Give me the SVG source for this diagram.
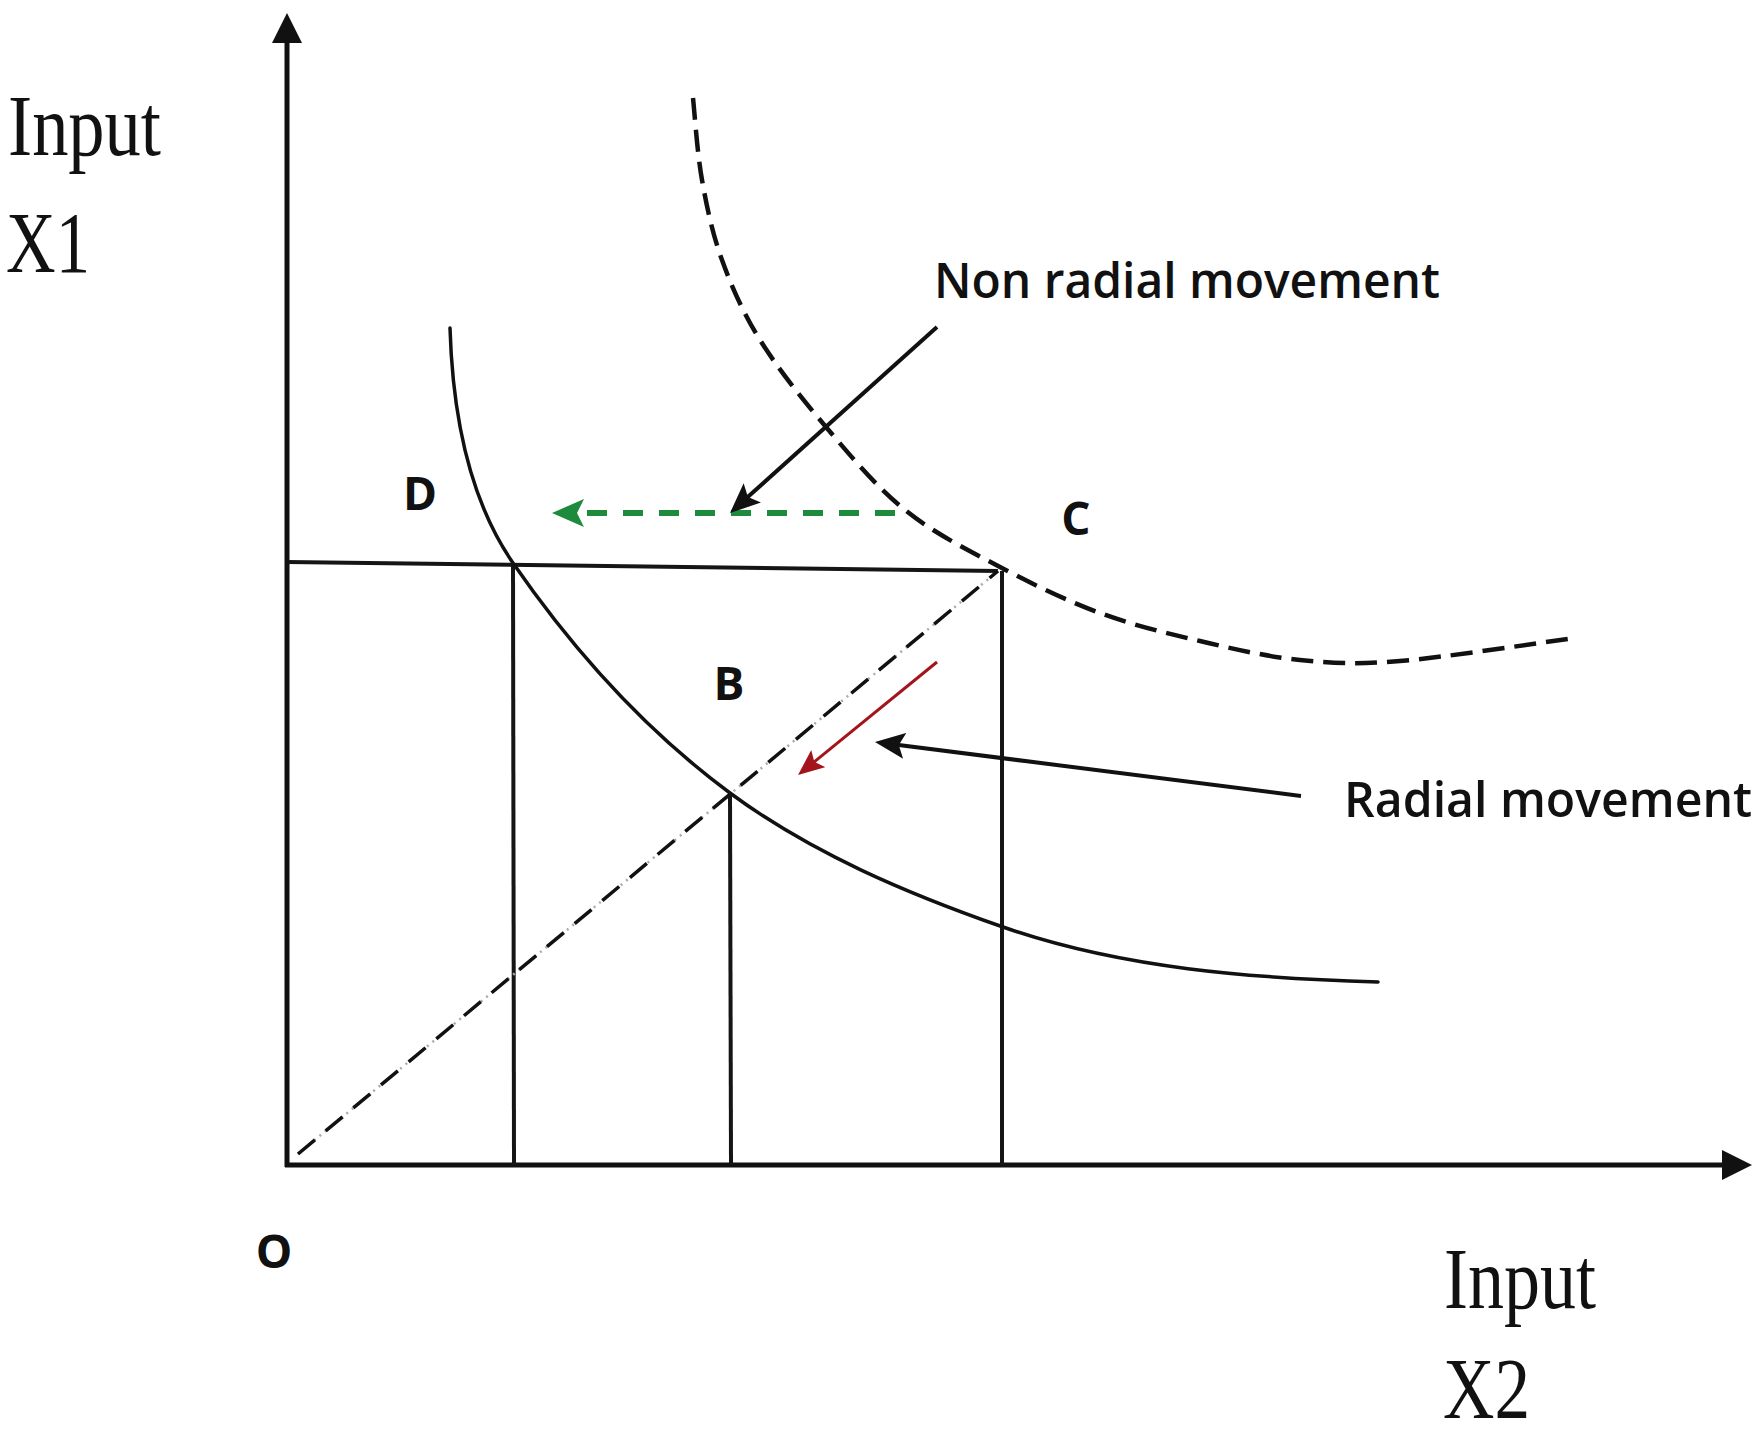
<svg xmlns="http://www.w3.org/2000/svg" width="1764" height="1434" viewBox="0 0 1764 1434">
<style>
.ax{stroke:#111;stroke-width:5;fill:none}
.guide{stroke:#151515;stroke-width:4;fill:none}
.curve{stroke:#111;stroke-width:3.5;fill:none;stroke-linecap:round}
.dcurve{stroke:#111;stroke-width:4.5;fill:none;stroke-dasharray:22 10}
.serif{font-family:"Liberation Serif","Times New Roman",serif;font-size:86px;fill:#111}
.sans{font-family:"Open Sans","Liberation Sans",Arial,sans-serif;font-size:48px;font-weight:600;fill:#111}
.pt{font-family:"Open Sans","Liberation Sans",sans-serif;font-size:46px;font-weight:bold;fill:#111;text-anchor:middle}
</style>
<defs>
<marker id="ah-axis" viewBox="0 0 30 30" refX="15" refY="15" markerWidth="30" markerHeight="30" markerUnits="userSpaceOnUse" orient="auto"><path d="M0,0 L30,15 L0,30 Z" fill="#111"/></marker>
<marker id="ah-black" viewBox="0 0 30 26" refX="10" refY="13" markerWidth="30" markerHeight="26" markerUnits="userSpaceOnUse" orient="auto"><path d="M0,0 L30,13 L0,26 L6,13 Z" fill="#111"/></marker>
<marker id="ah-green" viewBox="0 0 32 28" refX="11" refY="14" markerWidth="32" markerHeight="28" markerUnits="userSpaceOnUse" orient="auto"><path d="M0,0 L32,14 L0,28 L7,14 Z" fill="#1d8a3c"/></marker>
<marker id="ah-red" viewBox="0 0 26 22" refX="9" refY="11" markerWidth="26" markerHeight="22" markerUnits="userSpaceOnUse" orient="auto"><path d="M0,0 L26,11 L0,22 L5,11 Z" fill="#a3141c"/></marker>
</defs>
<rect width="1764" height="1434" fill="#fff"/>

<g id="axes">
<line class="ax" x1="287" y1="1167" x2="287" y2="28" marker-end="url(#ah-axis)"/>
<line class="ax" x1="285" y1="1165" x2="1737" y2="1165" marker-end="url(#ah-axis)"/>
</g>

<g id="guides">
<line class="guide" x1="287" y1="562" x2="998" y2="571"/>
<line class="guide" x1="513" y1="563" x2="514" y2="1165"/>
<line class="guide" x1="730" y1="795" x2="731" y2="1165"/>
<line class="guide" x1="1002" y1="571" x2="1002" y2="1165"/>
<line x1="298" y1="1154" x2="998" y2="571" stroke="#aaa" stroke-width="2.5" stroke-dasharray="2 5"/>
<line x1="298" y1="1154" x2="998" y2="571" stroke="#111" stroke-width="3.5" stroke-dasharray="22 14"/>
</g>

<g id="isoquant-solid">
<path class="curve" d="M450,328 C452.4,409 467,496.3 513,563 C572.6,649.4 645.6,730.5 730,793 C811.2,853.1 907.7,893.7 1003,927 C1122,968.6 1252,978.2 1378,982"/>
</g>

<g id="isoquant-dashed">
<path class="dcurve" d="M693,98 C694.5,111.7 697.2,153 702,180 C706.8,207 712.3,233.3 722,260 C731.7,286.7 742.7,312.2 760,340 C777.3,367.8 801.8,398.7 826,427 C850.2,455.3 876,486.7 905,510 C934,533.3 967.5,549.8 1000,567 C1032.5,584.2 1066.7,600.7 1100,613 C1133.3,625.3 1166.7,633.2 1200,641 C1233.3,648.8 1266.7,656.7 1300,660 C1333.3,663.3 1354.2,664.7 1400,661 C1445.8,657.3 1545.8,641.8 1575,638"/>
</g>

<g id="connectors">
<line x1="895" y1="513" x2="573" y2="513" stroke="#1d8a3c" stroke-width="6" stroke-dasharray="20 16" marker-end="url(#ah-green)"/>
<line x1="937" y1="327" x2="744.9" y2="499.6" stroke="#111" stroke-width="4" marker-end="url(#ah-black)"/>
<line x1="1301" y1="796" x2="894.8" y2="744.5" stroke="#111" stroke-width="4" marker-end="url(#ah-black)"/>
<line x1="937" y1="662" x2="811.2" y2="764.3" stroke="#a3141c" stroke-width="3" marker-end="url(#ah-red)"/>
</g>

<g id="labels">
<text class="serif" x="8" y="155" textLength="153" lengthAdjust="spacingAndGlyphs">Input</text>
<text class="serif" x="6" y="272" textLength="84" lengthAdjust="spacingAndGlyphs">X1</text>
<text class="serif" x="1444" y="1308" textLength="152" lengthAdjust="spacingAndGlyphs">Input</text>
<text class="serif" x="1443" y="1418" textLength="87" lengthAdjust="spacingAndGlyphs">X2</text>
<text class="sans" x="934" y="298" textLength="506" lengthAdjust="spacingAndGlyphs">Non radial movement</text>
<text class="sans" x="1344" y="817" textLength="408" lengthAdjust="spacingAndGlyphs">Radial movement</text>
<text class="pt" x="420" y="510">D</text>
<text class="pt" x="1076" y="535">C</text>
<text class="pt" x="729" y="700">B</text>
<text class="pt" x="274" y="1268">O</text>
</g>
</svg>
